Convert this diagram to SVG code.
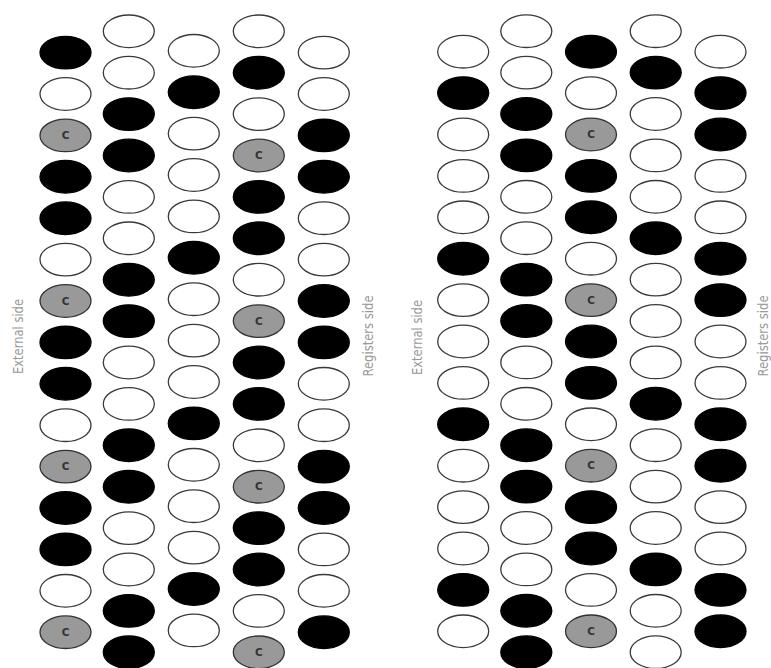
<svg xmlns="http://www.w3.org/2000/svg" width="771" height="668" viewBox="0 0 771 668">
<style>
ellipse{stroke-width:1.3}
.w{fill:#fff;stroke:#3a3a3a}
.b{fill:#000;stroke:#000}
.c{fill:#999;stroke:#333}
.ct{font-family:"DejaVu Sans",sans-serif;font-size:10.5px;font-weight:bold;fill:#333;text-anchor:middle}
.lbl{font-family:"DejaVu Sans Condensed","DejaVu Sans",sans-serif;font-size:14px;fill:#999;text-anchor:middle}
</style>
<rect width="771" height="668" fill="#fff"/>

<!-- LEFT PANEL -->
<g id="left-panel">
<g id="L-col1" transform="translate(65.5,52.6)">
<g id="L1-1"><ellipse class="b" cy="0" rx="25.5" ry="16.3"/></g>
<g id="L1-2"><ellipse class="w" cy="41.4" rx="25.5" ry="16.3"/></g>
<g id="L1-3"><ellipse class="c" cy="82.8" rx="25.5" ry="16.3"/><text class="ct" y="86.6">C</text></g>
<g id="L1-4"><ellipse class="b" cy="124.2" rx="25.5" ry="16.3"/></g>
<g id="L1-5"><ellipse class="b" cy="165.6" rx="25.5" ry="16.3"/></g>
<g id="L1-6"><ellipse class="w" cy="207" rx="25.5" ry="16.3"/></g>
<g id="L1-7"><ellipse class="c" cy="248.4" rx="25.5" ry="16.3"/><text class="ct" y="252.2">C</text></g>
<g id="L1-8"><ellipse class="b" cy="289.8" rx="25.5" ry="16.3"/></g>
<g id="L1-9"><ellipse class="b" cy="331.2" rx="25.5" ry="16.3"/></g>
<g id="L1-10"><ellipse class="w" cy="372.6" rx="25.5" ry="16.3"/></g>
<g id="L1-11"><ellipse class="c" cy="414" rx="25.5" ry="16.3"/><text class="ct" y="417.8">C</text></g>
<g id="L1-12"><ellipse class="b" cy="455.4" rx="25.5" ry="16.3"/></g>
<g id="L1-13"><ellipse class="b" cy="496.8" rx="25.5" ry="16.3"/></g>
<g id="L1-14"><ellipse class="w" cy="538.2" rx="25.5" ry="16.3"/></g>
<g id="L1-15"><ellipse class="c" cy="579.6" rx="25.5" ry="16.3"/><text class="ct" y="583.4">C</text></g>
</g>
<g id="L-col2" transform="translate(128.8,31.3)">
<g id="L2-1"><ellipse class="w" cy="0" rx="25.5" ry="16.3"/></g>
<g id="L2-2"><ellipse class="w" cy="41.4" rx="25.5" ry="16.3"/></g>
<g id="L2-3"><ellipse class="b" cy="82.8" rx="25.5" ry="16.3"/></g>
<g id="L2-4"><ellipse class="b" cy="124.2" rx="25.5" ry="16.3"/></g>
<g id="L2-5"><ellipse class="w" cy="165.6" rx="25.5" ry="16.3"/></g>
<g id="L2-6"><ellipse class="w" cy="207" rx="25.5" ry="16.3"/></g>
<g id="L2-7"><ellipse class="b" cy="248.4" rx="25.5" ry="16.3"/></g>
<g id="L2-8"><ellipse class="b" cy="289.8" rx="25.5" ry="16.3"/></g>
<g id="L2-9"><ellipse class="w" cy="331.2" rx="25.5" ry="16.3"/></g>
<g id="L2-10"><ellipse class="w" cy="372.6" rx="25.5" ry="16.3"/></g>
<g id="L2-11"><ellipse class="b" cy="414" rx="25.5" ry="16.3"/></g>
<g id="L2-12"><ellipse class="b" cy="455.4" rx="25.5" ry="16.3"/></g>
<g id="L2-13"><ellipse class="w" cy="496.8" rx="25.5" ry="16.3"/></g>
<g id="L2-14"><ellipse class="w" cy="538.2" rx="25.5" ry="16.3"/></g>
<g id="L2-15"><ellipse class="b" cy="579.6" rx="25.5" ry="16.3"/></g>
<g id="L2-16"><ellipse class="b" cy="621" rx="25.5" ry="16.3"/></g>
</g>
<g id="L-col3" transform="translate(193.8,50.8)">
<g id="L3-1"><ellipse class="w" cy="0" rx="25.5" ry="16.3"/></g>
<g id="L3-2"><ellipse class="b" cy="41.4" rx="25.5" ry="16.3"/></g>
<g id="L3-3"><ellipse class="w" cy="82.8" rx="25.5" ry="16.3"/></g>
<g id="L3-4"><ellipse class="w" cy="124.2" rx="25.5" ry="16.3"/></g>
<g id="L3-5"><ellipse class="w" cy="165.6" rx="25.5" ry="16.3"/></g>
<g id="L3-6"><ellipse class="b" cy="207" rx="25.5" ry="16.3"/></g>
<g id="L3-7"><ellipse class="w" cy="248.4" rx="25.5" ry="16.3"/></g>
<g id="L3-8"><ellipse class="w" cy="289.8" rx="25.5" ry="16.3"/></g>
<g id="L3-9"><ellipse class="w" cy="331.2" rx="25.5" ry="16.3"/></g>
<g id="L3-10"><ellipse class="b" cy="372.6" rx="25.5" ry="16.3"/></g>
<g id="L3-11"><ellipse class="w" cy="414" rx="25.5" ry="16.3"/></g>
<g id="L3-12"><ellipse class="w" cy="455.4" rx="25.5" ry="16.3"/></g>
<g id="L3-13"><ellipse class="w" cy="496.8" rx="25.5" ry="16.3"/></g>
<g id="L3-14"><ellipse class="b" cy="538.2" rx="25.5" ry="16.3"/></g>
<g id="L3-15"><ellipse class="w" cy="579.6" rx="25.5" ry="16.3"/></g>
</g>
<g id="L-col4" transform="translate(258.8,31.3)">
<g id="L4-1"><ellipse class="w" cy="0" rx="25.5" ry="16.3"/></g>
<g id="L4-2"><ellipse class="b" cy="41.4" rx="25.5" ry="16.3"/></g>
<g id="L4-3"><ellipse class="w" cy="82.8" rx="25.5" ry="16.3"/></g>
<g id="L4-4"><ellipse class="c" cy="124.2" rx="25.5" ry="16.3"/><text class="ct" y="128">C</text></g>
<g id="L4-5"><ellipse class="b" cy="165.6" rx="25.5" ry="16.3"/></g>
<g id="L4-6"><ellipse class="b" cy="207" rx="25.5" ry="16.3"/></g>
<g id="L4-7"><ellipse class="w" cy="248.4" rx="25.5" ry="16.3"/></g>
<g id="L4-8"><ellipse class="c" cy="289.8" rx="25.5" ry="16.3"/><text class="ct" y="293.6">C</text></g>
<g id="L4-9"><ellipse class="b" cy="331.2" rx="25.5" ry="16.3"/></g>
<g id="L4-10"><ellipse class="b" cy="372.6" rx="25.5" ry="16.3"/></g>
<g id="L4-11"><ellipse class="w" cy="414" rx="25.5" ry="16.3"/></g>
<g id="L4-12"><ellipse class="c" cy="455.4" rx="25.5" ry="16.3"/><text class="ct" y="459.2">C</text></g>
<g id="L4-13"><ellipse class="b" cy="496.8" rx="25.5" ry="16.3"/></g>
<g id="L4-14"><ellipse class="b" cy="538.2" rx="25.5" ry="16.3"/></g>
<g id="L4-15"><ellipse class="w" cy="579.6" rx="25.5" ry="16.3"/></g>
<g id="L4-16"><ellipse class="c" cy="621" rx="25.5" ry="16.3"/><text class="ct" y="624.8">C</text></g>
</g>
<g id="L-col5" transform="translate(323.8,52.6)">
<g id="L5-1"><ellipse class="w" cy="0" rx="25.5" ry="16.3"/></g>
<g id="L5-2"><ellipse class="w" cy="41.4" rx="25.5" ry="16.3"/></g>
<g id="L5-3"><ellipse class="b" cy="82.8" rx="25.5" ry="16.3"/></g>
<g id="L5-4"><ellipse class="b" cy="124.2" rx="25.5" ry="16.3"/></g>
<g id="L5-5"><ellipse class="w" cy="165.6" rx="25.5" ry="16.3"/></g>
<g id="L5-6"><ellipse class="w" cy="207" rx="25.5" ry="16.3"/></g>
<g id="L5-7"><ellipse class="b" cy="248.4" rx="25.5" ry="16.3"/></g>
<g id="L5-8"><ellipse class="b" cy="289.8" rx="25.5" ry="16.3"/></g>
<g id="L5-9"><ellipse class="w" cy="331.2" rx="25.5" ry="16.3"/></g>
<g id="L5-10"><ellipse class="w" cy="372.6" rx="25.5" ry="16.3"/></g>
<g id="L5-11"><ellipse class="b" cy="414" rx="25.5" ry="16.3"/></g>
<g id="L5-12"><ellipse class="b" cy="455.4" rx="25.5" ry="16.3"/></g>
<g id="L5-13"><ellipse class="w" cy="496.8" rx="25.5" ry="16.3"/></g>
<g id="L5-14"><ellipse class="w" cy="538.2" rx="25.5" ry="16.3"/></g>
<g id="L5-15"><ellipse class="b" cy="579.6" rx="25.5" ry="16.3"/></g>
</g>
<g id="L-external-label"><text class="lbl" transform="translate(22.5,336.5) rotate(-90)" textLength="75" lengthAdjust="spacingAndGlyphs">External side</text></g>
<g id="L-registers-label"><text class="lbl" transform="translate(372.5,336) rotate(-90)" textLength="81" lengthAdjust="spacingAndGlyphs">Registers side</text></g>
</g>

<!-- RIGHT PANEL -->
<g id="right-panel">
<g id="R-col1" transform="translate(463.2,51.7)">
<g id="R1-1"><ellipse class="w" cy="0" rx="25.5" ry="16.3"/></g>
<g id="R1-2"><ellipse class="b" cy="41.4" rx="25.5" ry="16.3"/></g>
<g id="R1-3"><ellipse class="w" cy="82.8" rx="25.5" ry="16.3"/></g>
<g id="R1-4"><ellipse class="w" cy="124.2" rx="25.5" ry="16.3"/></g>
<g id="R1-5"><ellipse class="w" cy="165.6" rx="25.5" ry="16.3"/></g>
<g id="R1-6"><ellipse class="b" cy="207" rx="25.5" ry="16.3"/></g>
<g id="R1-7"><ellipse class="w" cy="248.4" rx="25.5" ry="16.3"/></g>
<g id="R1-8"><ellipse class="w" cy="289.8" rx="25.5" ry="16.3"/></g>
<g id="R1-9"><ellipse class="w" cy="331.2" rx="25.5" ry="16.3"/></g>
<g id="R1-10"><ellipse class="b" cy="372.6" rx="25.5" ry="16.3"/></g>
<g id="R1-11"><ellipse class="w" cy="414" rx="25.5" ry="16.3"/></g>
<g id="R1-12"><ellipse class="w" cy="455.4" rx="25.5" ry="16.3"/></g>
<g id="R1-13"><ellipse class="w" cy="496.8" rx="25.5" ry="16.3"/></g>
<g id="R1-14"><ellipse class="b" cy="538.2" rx="25.5" ry="16.3"/></g>
<g id="R1-15"><ellipse class="w" cy="579.6" rx="25.5" ry="16.3"/></g>
</g>
<g id="R-col2" transform="translate(526.3,31.2)">
<g id="R2-1"><ellipse class="w" cy="0" rx="25.5" ry="16.3"/></g>
<g id="R2-2"><ellipse class="w" cy="41.4" rx="25.5" ry="16.3"/></g>
<g id="R2-3"><ellipse class="b" cy="82.8" rx="25.5" ry="16.3"/></g>
<g id="R2-4"><ellipse class="b" cy="124.2" rx="25.5" ry="16.3"/></g>
<g id="R2-5"><ellipse class="w" cy="165.6" rx="25.5" ry="16.3"/></g>
<g id="R2-6"><ellipse class="w" cy="207" rx="25.5" ry="16.3"/></g>
<g id="R2-7"><ellipse class="b" cy="248.4" rx="25.5" ry="16.3"/></g>
<g id="R2-8"><ellipse class="b" cy="289.8" rx="25.5" ry="16.3"/></g>
<g id="R2-9"><ellipse class="w" cy="331.2" rx="25.5" ry="16.3"/></g>
<g id="R2-10"><ellipse class="w" cy="372.6" rx="25.5" ry="16.3"/></g>
<g id="R2-11"><ellipse class="b" cy="414" rx="25.5" ry="16.3"/></g>
<g id="R2-12"><ellipse class="b" cy="455.4" rx="25.5" ry="16.3"/></g>
<g id="R2-13"><ellipse class="w" cy="496.8" rx="25.5" ry="16.3"/></g>
<g id="R2-14"><ellipse class="w" cy="538.2" rx="25.5" ry="16.3"/></g>
<g id="R2-15"><ellipse class="b" cy="579.6" rx="25.5" ry="16.3"/></g>
<g id="R2-16"><ellipse class="b" cy="621" rx="25.5" ry="16.3"/></g>
</g>
<g id="R-col3" transform="translate(591,51.7)">
<g id="R3-1"><ellipse class="b" cy="0" rx="25.5" ry="16.3"/></g>
<g id="R3-2"><ellipse class="w" cy="41.4" rx="25.5" ry="16.3"/></g>
<g id="R3-3"><ellipse class="c" cy="82.8" rx="25.5" ry="16.3"/><text class="ct" y="86.6">C</text></g>
<g id="R3-4"><ellipse class="b" cy="124.2" rx="25.5" ry="16.3"/></g>
<g id="R3-5"><ellipse class="b" cy="165.6" rx="25.5" ry="16.3"/></g>
<g id="R3-6"><ellipse class="w" cy="207" rx="25.5" ry="16.3"/></g>
<g id="R3-7"><ellipse class="c" cy="248.4" rx="25.5" ry="16.3"/><text class="ct" y="252.2">C</text></g>
<g id="R3-8"><ellipse class="b" cy="289.8" rx="25.5" ry="16.3"/></g>
<g id="R3-9"><ellipse class="b" cy="331.2" rx="25.5" ry="16.3"/></g>
<g id="R3-10"><ellipse class="w" cy="372.6" rx="25.5" ry="16.3"/></g>
<g id="R3-11"><ellipse class="c" cy="414" rx="25.5" ry="16.3"/><text class="ct" y="417.8">C</text></g>
<g id="R3-12"><ellipse class="b" cy="455.4" rx="25.5" ry="16.3"/></g>
<g id="R3-13"><ellipse class="b" cy="496.8" rx="25.5" ry="16.3"/></g>
<g id="R3-14"><ellipse class="w" cy="538.2" rx="25.5" ry="16.3"/></g>
<g id="R3-15"><ellipse class="c" cy="579.6" rx="25.5" ry="16.3"/><text class="ct" y="583.4">C</text></g>
</g>
<g id="R-col4" transform="translate(655.7,31.2)">
<g id="R4-1"><ellipse class="w" cy="0" rx="25.5" ry="16.3"/></g>
<g id="R4-2"><ellipse class="b" cy="41.4" rx="25.5" ry="16.3"/></g>
<g id="R4-3"><ellipse class="w" cy="82.8" rx="25.5" ry="16.3"/></g>
<g id="R4-4"><ellipse class="w" cy="124.2" rx="25.5" ry="16.3"/></g>
<g id="R4-5"><ellipse class="w" cy="165.6" rx="25.5" ry="16.3"/></g>
<g id="R4-6"><ellipse class="b" cy="207" rx="25.5" ry="16.3"/></g>
<g id="R4-7"><ellipse class="w" cy="248.4" rx="25.5" ry="16.3"/></g>
<g id="R4-8"><ellipse class="w" cy="289.8" rx="25.5" ry="16.3"/></g>
<g id="R4-9"><ellipse class="w" cy="331.2" rx="25.5" ry="16.3"/></g>
<g id="R4-10"><ellipse class="b" cy="372.6" rx="25.5" ry="16.3"/></g>
<g id="R4-11"><ellipse class="w" cy="414" rx="25.5" ry="16.3"/></g>
<g id="R4-12"><ellipse class="w" cy="455.4" rx="25.5" ry="16.3"/></g>
<g id="R4-13"><ellipse class="w" cy="496.8" rx="25.5" ry="16.3"/></g>
<g id="R4-14"><ellipse class="b" cy="538.2" rx="25.5" ry="16.3"/></g>
<g id="R4-15"><ellipse class="w" cy="579.6" rx="25.5" ry="16.3"/></g>
<g id="R4-16"><ellipse class="w" cy="621" rx="25.5" ry="16.3"/></g>
</g>
<g id="R-col5" transform="translate(720.5,51.7)">
<g id="R5-1"><ellipse class="w" cy="0" rx="25.5" ry="16.3"/></g>
<g id="R5-2"><ellipse class="b" cy="41.4" rx="25.5" ry="16.3"/></g>
<g id="R5-3"><ellipse class="b" cy="82.8" rx="25.5" ry="16.3"/></g>
<g id="R5-4"><ellipse class="w" cy="124.2" rx="25.5" ry="16.3"/></g>
<g id="R5-5"><ellipse class="w" cy="165.6" rx="25.5" ry="16.3"/></g>
<g id="R5-6"><ellipse class="b" cy="207" rx="25.5" ry="16.3"/></g>
<g id="R5-7"><ellipse class="b" cy="248.4" rx="25.5" ry="16.3"/></g>
<g id="R5-8"><ellipse class="w" cy="289.8" rx="25.5" ry="16.3"/></g>
<g id="R5-9"><ellipse class="w" cy="331.2" rx="25.5" ry="16.3"/></g>
<g id="R5-10"><ellipse class="b" cy="372.6" rx="25.5" ry="16.3"/></g>
<g id="R5-11"><ellipse class="b" cy="414" rx="25.5" ry="16.3"/></g>
<g id="R5-12"><ellipse class="w" cy="455.4" rx="25.5" ry="16.3"/></g>
<g id="R5-13"><ellipse class="w" cy="496.8" rx="25.5" ry="16.3"/></g>
<g id="R5-14"><ellipse class="b" cy="538.2" rx="25.5" ry="16.3"/></g>
<g id="R5-15"><ellipse class="b" cy="579.6" rx="25.5" ry="16.3"/></g>
</g>
<g id="R-external-label"><text class="lbl" transform="translate(421.5,337.5) rotate(-90)" textLength="75" lengthAdjust="spacingAndGlyphs">External side</text></g>
<g id="R-registers-label"><text class="lbl" transform="translate(767.5,336) rotate(-90)" textLength="81" lengthAdjust="spacingAndGlyphs">Registers side</text></g>
</g>
</svg>
